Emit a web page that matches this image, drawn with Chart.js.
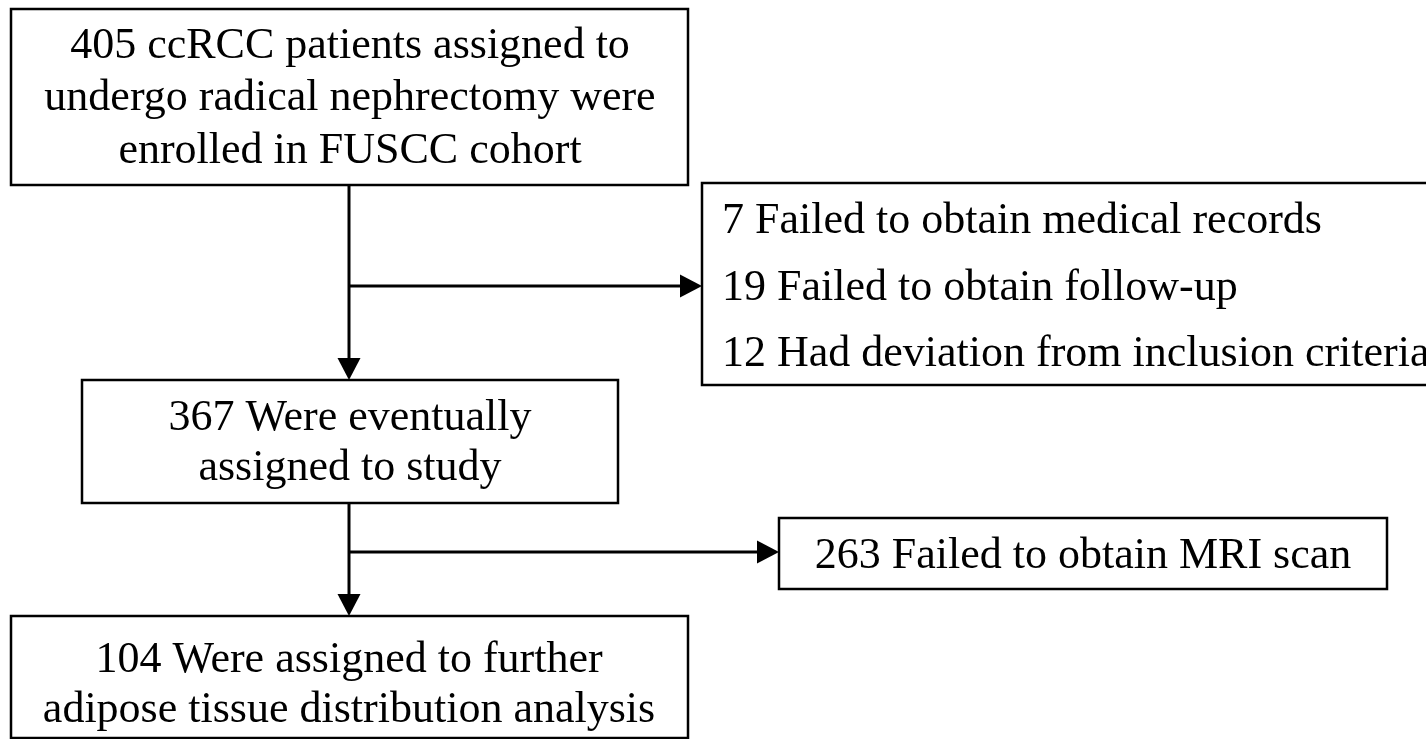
<!DOCTYPE html>
<html>
<head>
<meta charset="utf-8">
<script src="https://cdn.jsdelivr.net/npm/chart.js@4.4.1/dist/chart.umd.min.js"></script>
<style>
  html, body { margin: 0; padding: 0; background: #fff; }
  #flow { display: block; }
</style>
</head>
<body>
<canvas id="flow" width="1426" height="739"></canvas>
<script>
// text of each step of the flow
const enrolled = ['405 ccRCC patients assigned to', 'undergo radical nephrectomy were', 'enrolled in FUSCC cohort'];
const excludedFirst = ['7 Failed to obtain medical records', '19 Failed to obtain follow-up', '12 Had deviation from inclusion criteria'];
const studied = ['367 Were eventually', 'assigned to study'];
const excludedSecond = ['263 Failed to obtain MRI scan'];
const analysed = ['104 Were assigned to further', 'adipose tissue distribution analysis'];

// where things go (in the 0..1426 / 0..739 value space of the hidden axes)
const boxes = [
  { lines: enrolled,       x0: 11,  x1: 688,  y0: 9,   y1: 185, align: 'center', tx: 350, base: [58, 110, 163] },
  { lines: excludedFirst,  x0: 702, x1: 1440, y0: 183, y1: 385, align: 'left',   tx: 722, base: [233, 300, 366] },
  { lines: studied,        x0: 82,  x1: 618,  y0: 380, y1: 503, align: 'center', tx: 350, base: [430, 480] },
  { lines: excludedSecond, x0: 779, x1: 1387, y0: 518, y1: 589, align: 'center', tx: 1083, base: [568] },
  { lines: analysed,       x0: 11,  x1: 688,  y0: 616, y1: 738, align: 'center', tx: 349, base: [672, 722] }
];

const arrows = [
  { from: [349, 185], to: [349, 380] },
  { from: [349, 286], to: [702, 286] },
  { from: [349, 503], to: [349, 616] },
  { from: [349, 552], to: [779, 552] }
];

const flowPlugin = {
  id: 'flow',
  afterDraw(chart) {
    const ctx = chart.ctx;
    const sx = chart.scales.x, sy = chart.scales.y;
    const px = v => sx.getPixelForValue(v);
    const py = v => sy.getPixelForValue(v);

    ctx.save();
    ctx.strokeStyle = '#000';
    ctx.fillStyle = '#000';

    // boxes
    ctx.lineWidth = 2.5;
    boxes.forEach(b => {
      ctx.strokeRect(px(b.x0), py(b.y0), px(b.x1) - px(b.x0), py(b.y1) - py(b.y0));
      ctx.font = '44px "Liberation Serif", "Times New Roman", serif';
      ctx.textAlign = b.align;
      ctx.textBaseline = 'alphabetic';
      b.lines.forEach((t, i) => ctx.fillText(t, px(b.tx), py(b.base[i])));
    });

    // connectors with arrow heads
    ctx.lineWidth = 3;
    arrows.forEach(a => {
      const x0 = px(a.from[0]), y0 = py(a.from[1]);
      const x1 = px(a.to[0]), y1 = py(a.to[1]);
      const ang = Math.atan2(y1 - y0, x1 - x0);
      const len = 22, half = 11.5;
      const bx = x1 - len * Math.cos(ang), by = y1 - len * Math.sin(ang);
      ctx.beginPath();
      ctx.moveTo(x0, y0);
      ctx.lineTo(bx, by);
      ctx.stroke();
      ctx.beginPath();
      ctx.moveTo(x1, y1);
      ctx.lineTo(bx - half * Math.sin(ang), by + half * Math.cos(ang));
      ctx.lineTo(bx + half * Math.sin(ang), by - half * Math.cos(ang));
      ctx.closePath();
      ctx.fill();
    });
    ctx.restore();
  }
};

new Chart(document.getElementById('flow'), {
  type: 'scatter',
  data: { datasets: [{ data: [], pointRadius: 0 }] },
  options: {
    responsive: false,
    animation: false,
    layout: { padding: 0 },
    plugins: { legend: { display: false }, tooltip: { enabled: false } },
    scales: {
      x: { display: false, min: 0, max: 1426 },
      y: { display: false, min: 0, max: 739, reverse: true }
    }
  },
  plugins: [flowPlugin]
});
</script>
</body>
</html>
